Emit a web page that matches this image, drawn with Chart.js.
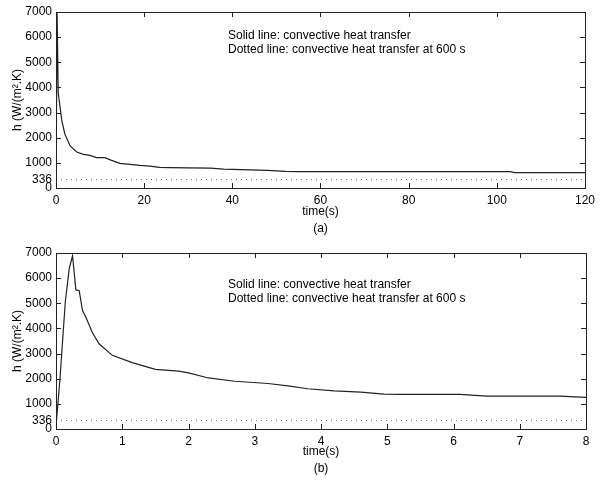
<!DOCTYPE html>
<html>
<head>
<meta charset="utf-8">
<script src="https://cdn.jsdelivr.net/npm/chart.js@4.4.1/dist/chart.umd.min.js"></script>
<style>
  body { margin: 0; background: #fff; }
  .panel { width: 600px; height: 240px; }
</style>
</head>
<body>
<div class="panel"><canvas id="chartA" width="600" height="240"></canvas></div>
<div class="panel"><canvas id="chartB" width="600" height="240"></canvas></div>
<script>
// panel (a): first 120 s
const timeA = [0, 0.25, 0.5, 1.3, 2, 3.2, 4.7, 6.2, 7.7, 9.2, 11.1, 12.6, 14.5, 16.8, 19, 21.3, 23.5, 25.8, 30, 35, 38, 42, 48, 52, 55, 103, 104, 120]
const hA = [100, 6950, 3800, 2700, 2150, 1680, 1430, 1340, 1300, 1210, 1210, 1100, 980, 940, 900, 870, 820, 810, 800, 790, 750, 730, 700, 660, 650, 650, 610, 610]

// panel (b): first 8 s
const timeB = [0, 0.06, 0.14, 0.2, 0.25, 0.3, 0.35, 0.4, 0.45, 0.55, 0.65, 0.85, 1.15, 1.5, 1.85, 2.0, 2.3, 2.7, 3.2, 3.5, 3.8, 4.2, 4.6, 4.95, 5.2, 6.1, 6.5, 7.6, 8]
const hB = [100, 2000, 5040, 6390, 6890, 5530, 5500, 4710, 4450, 3830, 3390, 2930, 2640, 2375, 2300, 2230, 2030, 1900, 1810, 1715, 1600, 1520, 1470, 1390, 1375, 1375, 1310, 1310, 1255]

const h600 = 336
const yTicks = [0, 336, 1000, 2000, 3000, 4000, 5000, 6000, 7000]
const xTicksA = [0, 20, 40, 60, 80, 100, 120]
const xTicksB = [0, 1, 2, 3, 4, 5, 6, 7, 8]
const notes = ['Solid line: convective heat transfer', 'Dotted line: convective heat transfer at 600 s']

const FONT = "'Liberation Sans', Arial, sans-serif"
Chart.defaults.font.family = FONT
Chart.defaults.font.size = 12
Chart.defaults.color = '#000'

// box, inward ticks on all four sides, and the note text
const framePlugin = {
  id: 'frame',
  afterDatasetsDraw(chart, args, opts) {
    const { ctx, chartArea: a, scales: { x, y } } = chart
    ctx.save()
    ctx.strokeStyle = '#222'
    ctx.lineWidth = 1
    ctx.strokeRect(a.left + 0.5, a.top + 0.5, a.width, a.height)
    const len = 5
    ctx.beginPath()
    x.ticks.forEach(t => {
      const px = Math.round(x.getPixelForValue(t.value)) + 0.5
      ctx.moveTo(px, a.bottom); ctx.lineTo(px, a.bottom - len)
      ctx.moveTo(px, a.top); ctx.lineTo(px, a.top + len)
    })
    y.ticks.forEach(t => {
      if (t.value === h600) return
      const py = Math.round(y.getPixelForValue(t.value)) + 0.5
      ctx.moveTo(a.left, py); ctx.lineTo(a.left + len, py)
      ctx.moveTo(a.right, py); ctx.lineTo(a.right - len, py)
    })
    ctx.stroke()
    ctx.fillStyle = '#000'
    ctx.font = '12px ' + FONT
    ctx.textBaseline = 'middle'
    opts.lines.forEach((s, i) => ctx.fillText(s, a.left + opts.dx, a.top + opts.dy + i * 14))
    ctx.restore()
  }
}

function makeChart(id, time, h, xTicks, label, top, noteDy) {
  const xMax = xTicks[xTicks.length - 1]
  return new Chart(document.getElementById(id), {
    type: 'line',
    data: {
      datasets: [{
        data: time.map((t, i) => ({ x: t, y: h[i] })),
        borderColor: '#222',
        borderWidth: 1.2,
        pointRadius: 0,
        tension: 0
      }, {
        data: [{ x: 0, y: h600 }, { x: xMax, y: h600 }],
        borderColor: '#666',
        borderWidth: 1,
        borderDash: [1, 4],
        pointRadius: 0
      }]
    },
    options: {
      responsive: false,
      animation: false,
      layout: { padding: { top: top, right: 14, left: 0, bottom: 0 } },
      plugins: {
        legend: { display: false },
        tooltip: { enabled: false },
        frame: { lines: notes, dx: 172, dy: noteDy }
      },
      scales: {
        x: {
          type: 'linear',
          min: 0,
          max: xMax,
          afterBuildTicks: s => { s.ticks = xTicks.map(v => ({ value: v })) },
          afterFit: s => { s.height = 240 - top - 176 },
          grid: { display: false, drawTicks: false },
          border: { display: false },
          ticks: { padding: 5, maxRotation: 0, callback: v => String(v) },
          title: {
            display: true,
            text: ['time(s)', label],
            font: { size: 12, lineHeight: 1.42 },
            padding: { top: 0, bottom: 2.5 }
          }
        },
        y: {
          min: 0,
          max: 7000,
          afterBuildTicks: s => { s.ticks = yTicks.map(v => ({ value: v })) },
          afterFit: s => { s.width = 56 },
          grid: { display: false, drawTicks: false },
          border: { display: false },
          ticks: { padding: 4, callback: v => String(v) },
          title: {
            display: true,
            text: 'h (W/(m\u00B2.K)',
            font: { size: 12 },
            padding: { top: 10, bottom: 0 }
          }
        }
      }
    },
    plugins: [framePlugin]
  })
}

makeChart('chartA', timeA, hA, xTicksA, '(a)', 12, 24)
makeChart('chartB', timeB, hB, xTicksB, '(b)', 13, 32)
</script>
</body>
</html>
